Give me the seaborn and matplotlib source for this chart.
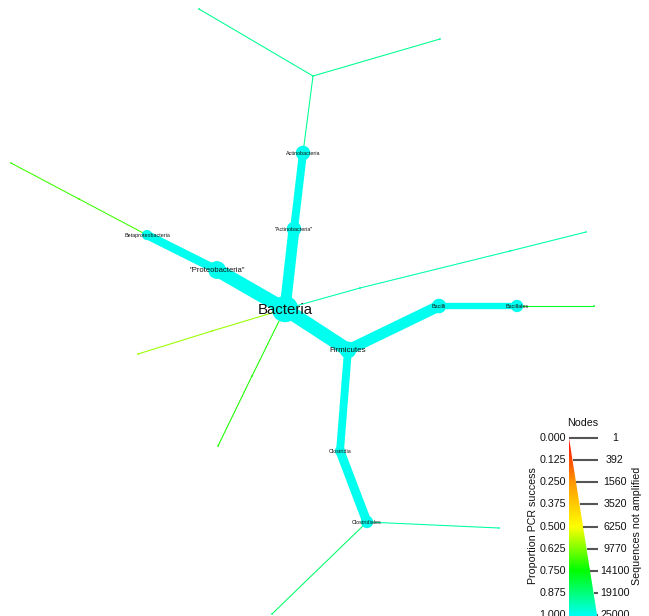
import numpy as np
import pandas as pd
import matplotlib
matplotlib.use("Agg")
import matplotlib.pyplot as plt
import seaborn as sns
from matplotlib.colors import LinearSegmentedColormap
from matplotlib.patches import Polygon

sns.set_theme(style="white")
plt.rcParams["font.family"] = ["Liberation Sans", "DejaVu Sans"]

# ---- taxonomy tree: one entry per node ----
taxon = ["Bacteria", '"Proteobacteria"', "Betaproteobacteria", "", "",
         '"Actinobacteria"', "Actinobacteria", "", "", "",
         "Firmicutes", "Bacilli", "Bacillales", "",
         "Clostridia", "Clostridiales", "", "",
         "", "", "", "", "", "", ""]
parent = [-1, 0, 1, 2, 3,
          0, 5, 6, 7, 7,
          0, 10, 11, 12,
          10, 14, 15, 15,
          0, 18, 19, 0, 21, 0, 23]
# tree layout coordinates
layout_x = [285, 217, 147, 79, 11,
            294, 303, 313, 199, 440,
            348, 439, 517, 594,
            340, 367, 499, 272,
            360, 510, 586, 212, 138, 252, 218]
layout_y = [309, 270, 235, 199, 163,
            229, 153, 76, 9, 39,
            350, 306, 306, 306,
            451, 522, 528, 614,
            288, 251, 232, 331, 354, 376, 446]
# proportion of PCR success per taxon
pcr_success = [1.0, 1.0, 1.0, 0.69, 0.69,
               1.0, 1.0, 0.9, 0.9, 0.9,
               1.0, 1.0, 1.0, 0.79,
               1.0, 1.0, 0.92, 0.86,
               0.93, 0.93, 0.93, 0.6, 0.6, 0.72, 0.72]
# sequences not amplified (node size)
node_seqs = [25000, 10600, 3000, 1, 1,
             6800, 6800, 1, 1, 1,
             9300, 6800, 4700, 1,
             3000, 4700, 1, 1,
             1, 1, 1, 1, 1, 1, 1]
# sequences carried by the edge into each node (edge width)
edge_seqs = [0, 25000, 9000, 1, 1,
             16000, 7800, 1, 1, 1,
             25000, 16000, 4600, 1,
             7500, 10500, 1, 1,
             1, 1, 1, 1, 1, 1, 1]

# legend scale
legend_success = [0.000, 0.125, 0.250, 0.375, 0.500, 0.625, 0.750, 0.875, 1.000]
legend_seqs = [1, 392, 1560, 3520, 6250, 9770, 14100, 19100, 25000]

nodes = pd.DataFrame({"taxon": taxon, "parent": parent, "x": layout_x, "y": layout_y,
                      "success": pcr_success, "seqs": node_seqs, "edge": edge_seqs})

cmap = LinearSegmentedColormap.from_list(
    "pcr", [(0.0, "#ff0000"), (0.25, "#ff9900"), (0.5, "#ffff00"),
            (0.75, "#00ff00"), (1.0, "#00ffee")])

PX = 0.72  # points per pixel at 100 dpi


def node_radius(n):
    return 0.8 + 12.4 * np.sqrt(n / 25000.0)


def edge_width(n):
    return 1.0 + 12.5 * np.sqrt(n / 25000.0)


fig = plt.figure(figsize=(6.49, 6.16), dpi=100)
ax = fig.add_axes([0, 0, 1, 1])

# edges, thin ones first
edges = nodes[nodes.parent >= 0].sort_values("edge")
for i, row in edges.iterrows():
    p = nodes.loc[row.parent]
    ax.plot([p.x, row.x], [p.y, row.y], color=cmap(row.success),
            lw=edge_width(row.edge) * PX, solid_capstyle="butt", zorder=1)

# nodes
nodes["size"] = (2 * node_radius(nodes.seqs) * PX) ** 2
sns.scatterplot(data=nodes, x="x", y="y", hue="success", size="size",
                sizes=(nodes["size"].min(), nodes["size"].max()),
                palette=cmap, hue_norm=(0, 1), linewidth=0, legend=False,
                ax=ax, zorder=2)

# labels
label_pt = {"Bacteria": 10.8, '"Proteobacteria"': 5.5, "Firmicutes": 5.8}
for _, row in nodes[nodes.taxon != ""].iterrows():
    fs = label_pt.get(row.taxon, 3.9)
    ax.text(row.x, row.y + (fs * 0.12), row.taxon, ha="center", va="center",
            fontsize=fs, color="#111111", zorder=3)

# ---- legend: colour and size wedge ----
top, bottom = 438, 615
lx, wmax = 569, 28
ys = np.linspace(top, bottom, len(legend_success))
grad = np.linspace(0, 1.0 + 6 / (bottom - top), 300).reshape(-1, 1)
im = ax.imshow(grad, cmap=cmap, vmin=0, vmax=1, aspect="auto",
               extent=[lx, lx + wmax + 2, bottom + 6, top], origin="upper", zorder=2)
wedge = Polygon([[lx, top], [lx, bottom + 6], [lx + wmax * (bottom + 6 - top) / (bottom - top), bottom + 6]],
                closed=True, transform=ax.transData)
im.set_clip_path(wedge)
for y, s, n in zip(ys, legend_success, legend_seqs):
    xr = lx + wmax * (y - top) / (bottom - top)
    ax.plot([xr, 598], [y, y], color="#555555", lw=1.5, solid_capstyle="butt", zorder=3)
    ax.text(566, y, f"{s:.3f}", ha="right", va="center", fontsize=7.7, color="#111111")
    ax.text(615, y, f"{n}", ha="center", va="center", fontsize=7.7, color="#111111")
ax.text(583, 423, "Nodes", ha="center", va="center", fontsize=7.7, color="#111111")
ax.text(533, 526, "Proportion PCR success", ha="center", va="center", rotation=90,
        fontsize=7.7, color="#111111")
ax.text(637, 526, "Sequences not amplified", ha="center", va="center", rotation=90,
        fontsize=7.7, color="#111111")

ax.set_xlim(0, 649)
ax.set_ylim(616, 0)
ax.set_axis_off()
fig.savefig("out.png", dpi=100, facecolor="white")
